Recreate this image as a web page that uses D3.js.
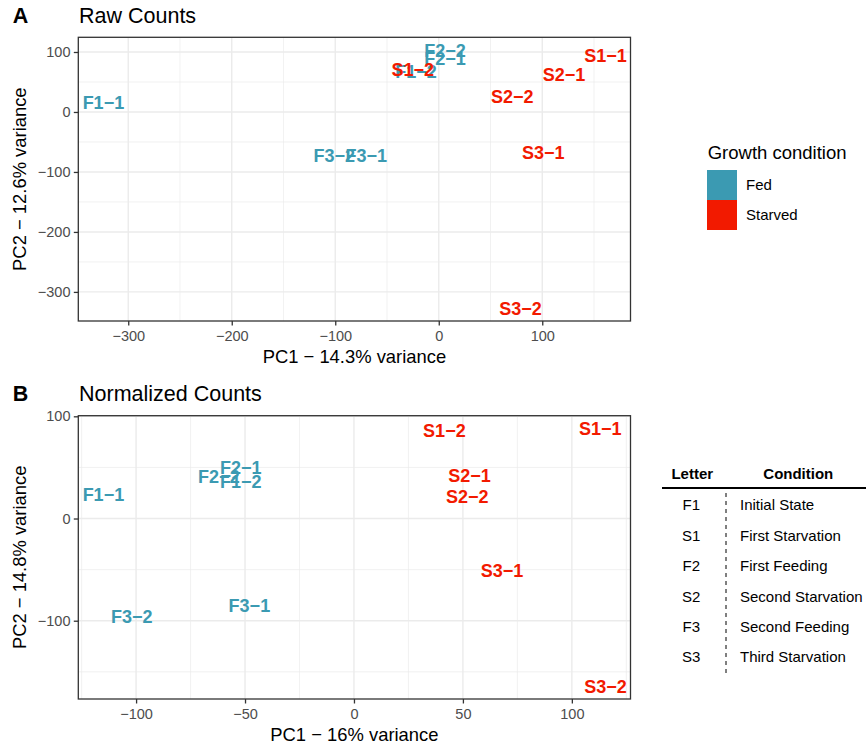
<!DOCTYPE html>
<html>
<head>
<meta charset="utf-8">
<script src="https://cdn.jsdelivr.net/npm/d3@7"></script>
<style>
  html, body { margin: 0; padding: 0; background: #fff; }
  svg { display: block; font-family: "Liberation Sans", Arial, Helvetica, sans-serif; }
</style>
</head>
<body>
<svg id="chart" width="866" height="746"></svg>
<script>
// ---------------- data ----------------
const samples   = ["F1−1","F1−2","F2−1","F2−2","F3−1","F3−2","S1−1","S1−2","S2−1","S2−2","S3−1","S3−2"];
const condition = ["Fed","Fed","Fed","Fed","Fed","Fed","Starved","Starved","Starved","Starved","Starved","Starved"];

const rawPC1  = [-324, -22, 6, 6, -70, -101, 161, -25, 121, 71, 101, 79];
const rawPC2  = [16, 68, 89, 103, -72, -72, 94, 71, 63, 26, -67, -327];
const normPC1 = [-115, -52, -52, -62, -48, -102, 113, 41.5, 53, 52, 68, 115.4];
const normPC2 = [23, 36, 50, 41, -85, -96, 88, 86, 42, 22, -51, -164];

const rawXTicks  = [-300, -200, -100, 0, 100];
const rawYTicks  = [-300, -200, -100, 0, 100];
const normXTicks = [-100, -50, 0, 50, 100];
const normYTicks = [-100, 0, 100];

const conditions = ["Fed", "Starved"];
const colors     = ["#3B9AB2", "#F21A00"];

const tableLetters    = ["F1","S1","F2","S2","F3","S3"];
const tableConditions = ["Initial State","First Starvation","First Feeding","Second Starvation","Second Feeding","Third Starvation"];

// ---------------- drawing ----------------
const svg = d3.select("#chart");
const color = d3.scaleOrdinal().domain(conditions).range(colors);

function expand(arr) {
  const [a, b] = d3.extent(arr);
  const d = (b - a) * 0.05;
  return [a - d, b + d];
}
function minors(majors, domain) {
  const step = majors[1] - majors[0];
  const out = [];
  for (let v = majors[0] - step / 2; v <= domain[1]; v += step) {
    if (v >= domain[0] && v <= domain[1]) out.push(v);
  }
  return out;
}

function panel(opt) {
  const { top, bottom, left, right, xs, ys, xTicks, yTicks, tag, title, xTitle, yTitle } = opt;
  const x = d3.scaleLinear().domain(expand(xs)).range([left, right]);
  const y = d3.scaleLinear().domain(expand(ys)).range([bottom, top]);
  const g = svg.append("g");

  // grid
  const grid = g.append("g");
  minors(xTicks, x.domain()).forEach(v => grid.append("line")
    .attr("x1", x(v)).attr("x2", x(v)).attr("y1", top).attr("y2", bottom)
    .attr("stroke", "#EBEBEB").attr("stroke-width", 0.7));
  minors(yTicks, y.domain()).forEach(v => grid.append("line")
    .attr("y1", y(v)).attr("y2", y(v)).attr("x1", left).attr("x2", right)
    .attr("stroke", "#EBEBEB").attr("stroke-width", 0.7));
  xTicks.forEach(v => grid.append("line")
    .attr("x1", x(v)).attr("x2", x(v)).attr("y1", top).attr("y2", bottom)
    .attr("stroke", "#EBEBEB").attr("stroke-width", 1.4));
  yTicks.forEach(v => grid.append("line")
    .attr("y1", y(v)).attr("y2", y(v)).attr("x1", left).attr("x2", right)
    .attr("stroke", "#EBEBEB").attr("stroke-width", 1.4));

  // labels (Fed first, then Starved on top)
  const pts = samples.map((s, i) => ({ s, c: condition[i], x: xs[i], y: ys[i] }));
  g.append("g").selectAll("text").data(pts).join("text")
    .attr("x", d => x(d.x)).attr("y", d => y(d.y))
    .attr("text-anchor", "middle").attr("dy", "0.36em")
    .attr("font-size", 18).attr("font-weight", "bold")
    .attr("fill", d => color(d.c))
    .text(d => d.s);

  // border
  g.append("rect").attr("x", left).attr("y", top)
    .attr("width", right - left).attr("height", bottom - top)
    .attr("fill", "none").attr("stroke", "#333333").attr("stroke-width", 1.3);

  // axes
  const ax = g.append("g").attr("transform", `translate(0,${bottom})`)
    .call(d3.axisBottom(x).tickValues(xTicks).tickSize(4.5).tickPadding(5.5));
  const ay = g.append("g").attr("transform", `translate(${left},0)`)
    .call(d3.axisLeft(y).tickValues(yTicks).tickSize(4.5).tickPadding(3.3));
  [ax, ay].forEach(a => {
    a.select(".domain").remove();
    a.selectAll(".tick line").attr("stroke", "#333333").attr("stroke-width", 1.3);
    a.selectAll(".tick text").attr("fill", "#4D4D4D").attr("font-size", 14.5)
      .attr("font-family", "Liberation Sans, Arial, Helvetica, sans-serif");
  });

  // titles
  g.append("text").attr("x", (left + right) / 2).attr("y", bottom + 41.7)
    .attr("text-anchor", "middle").attr("font-size", 18.4).attr("fill", "#000").text(xTitle);
  g.append("text").attr("transform", `translate(26,${(top + bottom) / 2}) rotate(-90)`)
    .attr("text-anchor", "middle").attr("font-size", 18.4).attr("fill", "#000").text(yTitle);
  g.append("text").attr("x", 12.7).attr("y", top - 14.8)
    .attr("font-size", 21.5).attr("font-weight", "bold").text(tag);
  g.append("text").attr("x", 79).attr("y", top - 14.8)
    .attr("font-size", 21.5).text(title);
}

panel({ top: 37.3, bottom: 321, left: 78.3, right: 630.5, xs: rawPC1, ys: rawPC2,
  xTicks: rawXTicks, yTicks: rawYTicks, tag: "A", title: "Raw Counts",
  xTitle: "PC1 − 14.3% variance", yTitle: "PC2 − 12.6% variance" });
panel({ top: 415.7, bottom: 699, left: 78.3, right: 630.5, xs: normPC1, ys: normPC2,
  xTicks: normXTicks, yTicks: normYTicks, tag: "B", title: "Normalized Counts",
  xTitle: "PC1 − 16% variance", yTitle: "PC2 − 14.8% variance" });

// legend
const lg = svg.append("g");
lg.append("text").attr("x", 707.7).attr("y", 159.3).attr("font-size", 18.5).text("Growth condition");
conditions.forEach((c, i) => {
  lg.append("rect").attr("x", 707).attr("y", 170 + i * 30).attr("width", 30).attr("height", 30)
    .attr("fill", color(c));
  lg.append("text").attr("x", 746).attr("y", 185 + i * 30).attr("dy", "0.35em")
    .attr("font-size", 15).text(c);
});

// table
const tb = svg.append("g");
tb.append("text").attr("x", 692.3).attr("y", 478.5).attr("text-anchor", "middle")
  .attr("font-size", 15).attr("font-weight", "bold").text("Letter");
tb.append("text").attr("x", 798.3).attr("y", 478.5).attr("text-anchor", "middle")
  .attr("font-size", 15).attr("font-weight", "bold").text("Condition");
tb.append("line").attr("x1", 662).attr("x2", 866).attr("y1", 488).attr("y2", 488)
  .attr("stroke", "#000").attr("stroke-width", 2);
tb.append("line").attr("x1", 726).attr("x2", 726).attr("y1", 493).attr("y2", 675)
  .attr("stroke", "#000").attr("stroke-width", 1).attr("stroke-dasharray", "4,4");
const rowY = d3.scalePoint().domain(tableLetters).range([505, 657]);
tableLetters.forEach((l, i) => {
  tb.append("text").attr("x", 691.3).attr("y", rowY(l)).attr("dy", "0.36em")
    .attr("text-anchor", "middle").attr("font-size", 15).text(l);
  tb.append("text").attr("x", 740).attr("y", rowY(l)).attr("dy", "0.36em")
    .attr("font-size", 15).text(tableConditions[i]);
});
</script>
</body>
</html>
